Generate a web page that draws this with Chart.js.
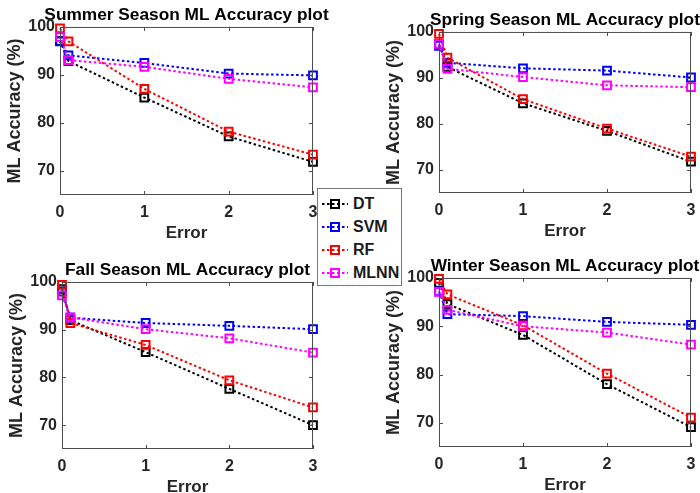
<!DOCTYPE html>
<html>
<head>
<meta charset="utf-8">
<script src="https://cdn.jsdelivr.net/npm/chart.js@4"></script>
<style>
  html, body { margin: 0; padding: 0; background: #fff; }
  body { width: 700px; height: 493px; position: relative; overflow: hidden; font-family: 'Liberation Sans', Arial, sans-serif; }
  .panel { position: absolute; }
  #leyenda {
    position: absolute; left: 317px; top: 188px; width: 85px; height: 98px;
    border: 1px solid #777; background: #fff; z-index: 5; box-sizing: border-box;
  }
  .ley-item { position: absolute; left: 3px; height: 20px; display: flex; align-items: center; }
  .ley-item span { font-weight: bold; font-size: 16px; color: #1a1a1a; margin-left: 4px; }
</style>
</head>
<body>
<div class="panel" id="p-summer"><canvas id="c-summer"></canvas></div>
<div class="panel" id="p-spring"><canvas id="c-spring"></canvas></div>
<div class="panel" id="p-fall"><canvas id="c-fall"></canvas></div>
<div class="panel" id="p-winter"><canvas id="c-winter"></canvas></div>
<div id="leyenda"></div>

<script>
// Datos (x = error, y = accuracy %)
const ERROR_X = [0, 0.1, 1, 2, 3];
const X_TICKS = [0, 1, 2, 3];
const Y_TICKS = [70, 80, 90, 100];
const MODELOS = ['DT', 'SVM', 'RF', 'MLNN'];

const summerDT   = [97.1, 92.9, 85.3, 77.2, 71.9];
const summerSVM  = [97.0, 94.1, 92.5, 90.3, 89.9];
const summerRF   = [99.7, 97.0, 87.1, 78.2, 73.4];
const summerMLNN = [97.9, 93.1, 91.7, 89.2, 87.4];

const springDT   = [97.3, 92.4, 84.5, 78.5, 71.8];
const springSVM  = [97.0, 93.3, 92.1, 91.6, 90.1];
const springRF   = [99.6, 94.4, 85.4, 79.0, 72.9];
const springMLNN = [97.4, 92.0, 90.2, 88.4, 88.0];

const fallDT   = [98.5, 92.0, 85.3, 77.6, 70.0];
const fallSVM  = [98.0, 92.5, 91.4, 90.8, 90.1];
const fallRF   = [99.4, 91.4, 86.8, 79.4, 73.7];
const fallMLNN = [97.2, 92.6, 90.1, 88.2, 85.2];

const winterDT   = [99.0, 94.6, 88.2, 78.0, 69.1];
const winterSVM  = [97.2, 92.5, 92.1, 90.9, 90.3];
const winterRF   = [99.8, 96.6, 90.2, 80.2, 71.1];
const winterMLNN = [97.1, 93.4, 90.0, 88.7, 86.2];

const COLOR = { DT: '#000000', SVM: '#0000ff', RF: '#ff0000', MLNN: '#ff00ff' };
// MATLAB dibuja el último encima
const ORDEN = { DT: 4, SVM: 3, RF: 2, MLNN: 1 };

const FONT = "'Liberation Sans', Arial, sans-serif";

// Geometría común de cada canvas: eje Y 60px a la izq y un eje vacío de 60px a la der
// (así el título centrado en el canvas queda centrado sobre el área), título 27px, eje X 55px
const Y_W = 60, TOP_H = 27, X_H = 55, DER_W = 60;

// Caja + ticks hacia adentro, estilo MATLAB
const cajaEjes = {
  id: 'cajaEjes',
  afterDatasetsDraw(chart) {
    const { ctx, chartArea: a, scales } = chart;
    ctx.save();
    ctx.strokeStyle = '#4d4d4d';
    ctx.lineWidth = 1;
    ctx.strokeRect(a.left + 0.5, a.top + 0.5, a.right - a.left - 1, a.bottom - a.top - 1);
    ctx.beginPath();
    X_TICKS.forEach((v) => {
      const x = Math.round(scales.x.getPixelForValue(v)) + 0.5;
      ctx.moveTo(x, a.bottom); ctx.lineTo(x, a.bottom - 4);
      ctx.moveTo(x, a.top); ctx.lineTo(x, a.top + 4);
    });
    Y_TICKS.forEach((v) => {
      const y = Math.round(scales.y.getPixelForValue(v)) + 0.5;
      ctx.moveTo(a.left, y); ctx.lineTo(a.left + 4, y);
      ctx.moveTo(a.right, y); ctx.lineTo(a.right - 4, y);
    });
    ctx.stroke();
    ctx.restore();
  },
};

function serie(nombre, valores) {
  return {
    label: nombre,
    data: ERROR_X.map((x, i) => ({ x, y: valores[i] })),
    borderColor: COLOR[nombre],
    backgroundColor: 'transparent',
    borderWidth: 2,
    borderDash: [2.5, 2.5],
    pointStyle: 'rect',
    pointRadius: 5.5,
    pointBorderWidth: 2,
    pointBackgroundColor: 'transparent',
    pointBorderColor: COLOR[nombre],
    order: ORDEN[nombre],
    clip: false,
    tension: 0,
  };
}

function crearPanel(id, area, titulo, series) {
  const panel = document.getElementById('p-' + id);
  const w = (area.r - area.l) + Y_W + DER_W;
  const h = (area.b - area.t) + TOP_H + X_H;
  panel.style.left = (area.l - Y_W) + 'px';
  panel.style.top = (area.t - TOP_H) + 'px';
  panel.style.width = w + 'px';
  panel.style.height = h + 'px';

  return new Chart(document.getElementById('c-' + id), {
    type: 'line',
    data: { datasets: series },
    options: {
      responsive: true, maintainAspectRatio: false, animation: false,
      layout: { padding: 0 },
      plugins: {
        legend: { display: false },
        tooltip: { enabled: false },
        title: {
          display: true, text: titulo, color: '#000',
          font: { family: FONT, size: 17.3, weight: 'bold', lineHeight: 1.2 },
          padding: { top: 4.6, bottom: 1.6 },
        },
      },
      scales: {
        x: {
          type: 'linear', min: 0, max: 3,
          afterBuildTicks: (s) => { s.ticks = X_TICKS.map((v) => ({ value: v })); },
          afterFit: (s) => { s.height = X_H; },
          grid: { display: false, drawTicks: false },
          border: { display: false },
          ticks: { color: '#262626', padding: 8, font: { family: FONT, size: 16, weight: 'bold' } },
          title: {
            display: true, text: 'Error', color: '#262626',
            font: { family: FONT, size: 17, weight: 'bold', lineHeight: 1.2 },
            padding: { top: 0, bottom: 6 },
          },
        },
        y: {
          type: 'linear', min: 65, max: 100,
          afterBuildTicks: (s) => { s.ticks = Y_TICKS.map((v) => ({ value: v })); },
          afterFit: (s) => { s.width = Y_W; },
          grid: { display: false, drawTicks: false },
          border: { display: false },
          ticks: { color: '#262626', padding: 5, font: { family: FONT, size: 16, weight: 'bold' } },
          title: {
            display: true, text: 'ML Accuracy (%)', color: '#262626',
            font: { family: FONT, size: 18, weight: 'bold', lineHeight: 1.2 },
            padding: { top: 4, bottom: 0 },
          },
        },
        // eje vacío a la derecha: solo reserva espacio para centrar el título
        der: {
          type: 'linear', position: 'right', min: 0, max: 1,
          afterFit: (s) => { s.width = DER_W; },
          grid: { display: false, drawTicks: false },
          border: { display: false },
          ticks: { display: false },
        },
      },
    },
    plugins: [cajaEjes],
  });
}

crearPanel('summer', { l: 60, t: 27, r: 313, b: 195 }, 'Summer Season ML Accuracy plot',
  [serie('DT', summerDT), serie('SVM', summerSVM), serie('RF', summerRF), serie('MLNN', summerMLNN)]);
crearPanel('spring', { l: 439, t: 32, r: 691, b: 193 }, 'Spring Season ML Accuracy plot',
  [serie('DT', springDT), serie('SVM', springSVM), serie('RF', springRF), serie('MLNN', springMLNN)]);
crearPanel('fall', { l: 62, t: 282, r: 313, b: 449 }, 'Fall Season ML Accuracy plot',
  [serie('DT', fallDT), serie('SVM', fallSVM), serie('RF', fallRF), serie('MLNN', fallMLNN)]);
crearPanel('winter', { l: 439, t: 278, r: 691, b: 447 }, 'Winter Season ML Accuracy plot',
  [serie('DT', winterDT), serie('SVM', winterSVM), serie('RF', winterRF), serie('MLNN', winterMLNN)]);

// Leyenda compartida (caja central)
const leyenda = document.getElementById('leyenda');
MODELOS.forEach((m, i) => {
  const c = COLOR[m];
  const item = document.createElement('div');
  item.className = 'ley-item';
  item.style.top = (5 + i * 23) + 'px';
  item.innerHTML =
    `<svg width="28" height="12">
       <line x1="1" y1="6" x2="27" y2="6" stroke="${c}" stroke-width="2" stroke-dasharray="2.5 2.5"/>
       <rect x="10" y="2" width="8" height="8" fill="none" stroke="${c}" stroke-width="2"/>
     </svg><span>${m}</span>`;
  leyenda.appendChild(item);
});
</script>
</body>
</html>
